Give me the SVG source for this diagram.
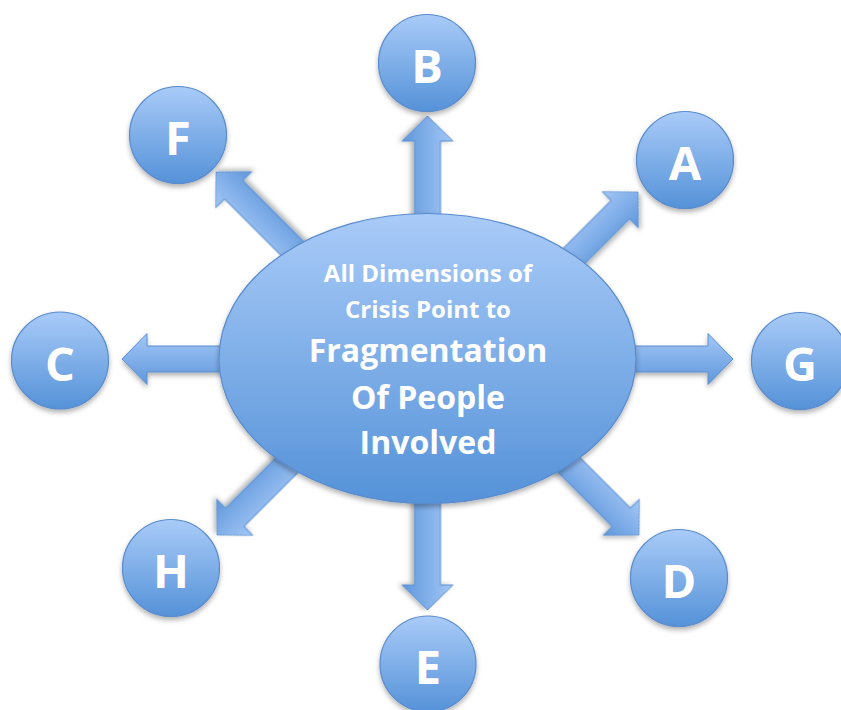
<svg xmlns="http://www.w3.org/2000/svg" xmlns:xlink="http://www.w3.org/1999/xlink" width="841" height="710" viewBox="0 0 841 710">
  <style>
    .node { stroke: #5a8bcd; stroke-width: 1.2; fill: url(#gBall); filter: url(#shadow); }
    .letter { font-family: "Open Sans", "Liberation Sans", sans-serif; font-weight: bold; font-size: 47px; fill: #ffffff; text-anchor: middle; }
    .small { font-family: "Open Sans", "Liberation Sans", sans-serif; font-weight: bold; font-size: 24px; fill: #ffffff; text-anchor: middle; }
    .big { font-family: "Open Sans", "Liberation Sans", sans-serif; font-weight: bold; font-size: 32px; fill: #ffffff; text-anchor: middle; }
    .arrow { fill: url(#gArrow); stroke: #5b8fd0; stroke-width: 1; filter: url(#shadow); }
  </style>
  <defs>
    <linearGradient id="gBall" x1="0" y1="0" x2="0" y2="1">
      <stop offset="0" stop-color="#a9cbf8"/>
      <stop offset="1" stop-color="#5592d8"/>
    </linearGradient>
    <linearGradient id="gArrow" x1="0" y1="0" x2="0" y2="1">
      <stop offset="0" stop-color="#a3c7f6"/>
      <stop offset="1" stop-color="#5f97db"/>
    </linearGradient>
    <filter id="shadow" x="-20%" y="-20%" width="140%" height="140%">
      <feDropShadow dx="0" dy="3" stdDeviation="2.5" flood-color="#000000" flood-opacity="0.3"/>
    </filter>
    <path id="arrowShape" d="M0,0 L-25,-25.5 L-25,-13 L-190,-13 L-190,13 L-25,13 L-25,25.5 Z"/>
  </defs>

  <g id="connectors">
    <use xlink:href="#arrowShape" class="arrow" transform="translate(427.5,116) rotate(-90) scale(1,-1)"/>
    <use xlink:href="#arrowShape" class="arrow" transform="translate(638,192) rotate(-45)"/>
    <use xlink:href="#arrowShape" class="arrow" transform="translate(733,359)"/>
    <use xlink:href="#arrowShape" class="arrow" transform="translate(639,535) rotate(45)"/>
    <use xlink:href="#arrowShape" class="arrow" transform="translate(427.5,610) rotate(90)"/>
    <use xlink:href="#arrowShape" class="arrow" transform="translate(217,535) rotate(135)"/>
    <use xlink:href="#arrowShape" class="arrow" transform="translate(122,359) scale(-1,1)"/>
    <use xlink:href="#arrowShape" class="arrow" transform="translate(216,172) rotate(-135)"/>
  </g>

  <g id="center">
    <ellipse cx="427.5" cy="358.5" rx="208.5" ry="145" class="node"/>
    <text class="small" x="428" y="282">All Dimensions of</text>
    <text class="small" x="428" y="318">Crisis Point to</text>
    <text class="big" x="428" y="362">Fragmentation</text>
    <text class="big" x="428" y="409">Of People</text>
    <text class="big" x="428" y="454">Involved</text>
  </g>

  <g id="node-B">
    <circle cx="427" cy="63" r="48.5" class="node"/>
    <text class="letter" x="427" y="83">B</text>
  </g>
  <g id="node-A">
    <circle cx="685" cy="160" r="48.5" class="node"/>
    <text class="letter" x="685" y="180">A</text>
  </g>
  <g id="node-F">
    <circle cx="178" cy="135" r="48.5" class="node"/>
    <text class="letter" x="178" y="155">F</text>
  </g>
  <g id="node-C">
    <circle cx="60" cy="360.5" r="48.5" class="node"/>
    <text class="letter" x="60" y="381">C</text>
  </g>
  <g id="node-G">
    <circle cx="800" cy="361" r="48.5" class="node"/>
    <text class="letter" x="800" y="381">G</text>
  </g>
  <g id="node-H">
    <circle cx="171" cy="568" r="48.5" class="node"/>
    <text class="letter" x="171" y="588">H</text>
  </g>
  <g id="node-D">
    <circle cx="679" cy="578" r="48.5" class="node"/>
    <text class="letter" x="679" y="598">D</text>
  </g>
  <g id="node-E">
    <circle cx="428" cy="664" r="48" class="node"/>
    <text class="letter" x="428" y="684">E</text>
  </g>
</svg>
